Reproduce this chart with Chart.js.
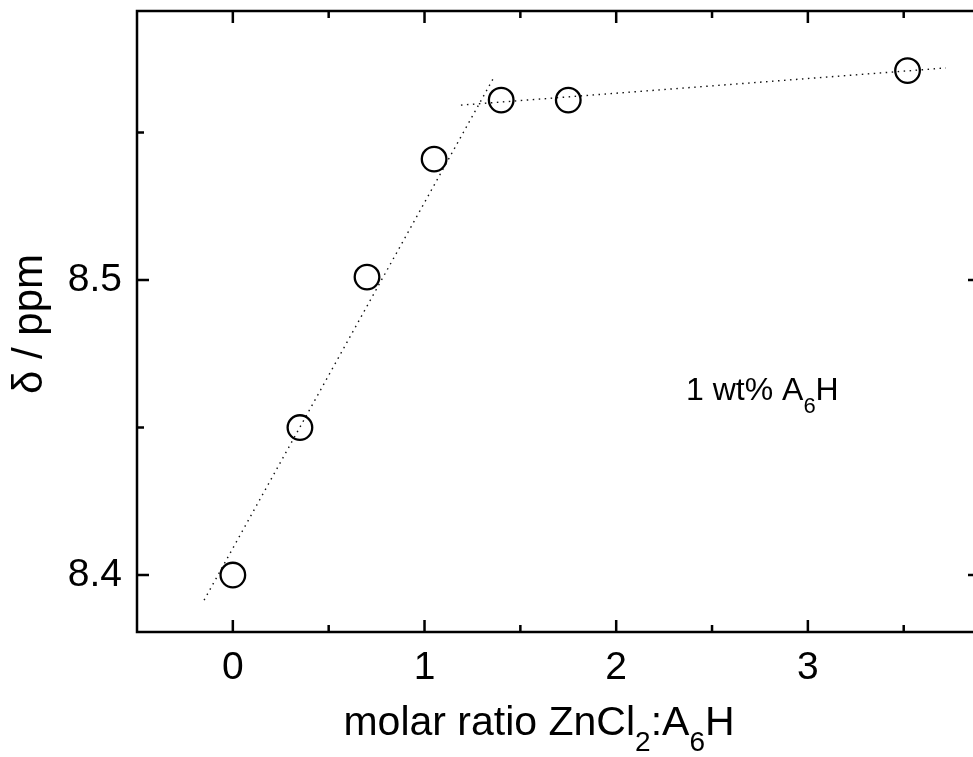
<!DOCTYPE html>
<html>
<head>
<meta charset="utf-8">
<script src="https://cdn.jsdelivr.net/npm/chart.js@4.4.1/dist/chart.umd.min.js"></script>
<style>
  html, body { margin:0; padding:0; background:#fff; overflow:hidden; }
  #wrap { width:973px; height:757px; overflow:hidden; position:relative; }
  #c { display:block; width:990px; height:757px; }
</style>
</head>
<body>
<div id="wrap"><canvas id="c" width="990" height="757"></canvas></div>
<script>
// ---- data ----
const ratioX = [0, 0.35, 0.70, 1.05, 1.40, 1.75, 3.52];
const shiftY = [8.400, 8.450, 8.501, 8.541, 8.561, 8.561, 8.571];
const fitSteepX = [-0.15, 1.36];
const fitSteepY = [8.3915, 8.5685];
const fitFlatX = [1.19, 3.72];
const fitFlatY = [8.5593, 8.5719];
const xTicks = [0, 1, 2, 3];
const xMinorTicks = [0.5, 1.5, 2.5, 3.5];
const yTicks = [8.4, 8.5];
const yMinorTicks = [8.45, 8.55];
const xTitleParts = [["molar ratio ZnCl", false], ["2", true], [":A", false], ["6", true], ["H", false]];
const yTitle = "δ / ppm";
const noteParts = [["1 wt% A", false], ["6", true], ["H", false]];

const FONT = '"Liberation Sans", Arial, sans-serif';

function drawParts(ctx, parts, x, y, size, subSize, subOff) {
  let cx = x;
  for (const [t, sub] of parts) {
    ctx.font = (sub ? subSize : size) + 'px ' + FONT;
    ctx.fillText(t, cx, sub ? y + subOff : y);
    cx += ctx.measureText(t).width;
  }
}
function partsWidth(ctx, parts, size, subSize) {
  let w = 0;
  for (const [t, sub] of parts) {
    ctx.font = (sub ? subSize : size) + 'px ' + FONT;
    w += ctx.measureText(t).width;
  }
  return w;
}

const framePlugin = {
  id: 'frame',
  afterDraw(chart) {
    const ctx = chart.ctx;
    const a = chart.chartArea;
    const xs = chart.scales.x, ys = chart.scales.y;
    ctx.save();
    ctx.strokeStyle = '#000';
    ctx.lineWidth = 2.5;
    ctx.strokeRect(a.left, a.top, a.right - a.left, a.bottom - a.top);
    ctx.beginPath();
    const MAJ = 12, MIN = 7;
    for (const v of xTicks.concat(xMinorTicks)) {
      const L = xTicks.includes(v) ? MAJ : MIN;
      const px = xs.getPixelForValue(v);
      ctx.moveTo(px, a.bottom); ctx.lineTo(px, a.bottom - L);
      ctx.moveTo(px, a.top); ctx.lineTo(px, a.top + L);
    }
    for (const v of yTicks.concat(yMinorTicks)) {
      const L = yTicks.includes(v) ? MAJ : MIN;
      const py = ys.getPixelForValue(v);
      ctx.moveTo(a.left, py); ctx.lineTo(a.left + L, py);
      ctx.moveTo(a.right, py); ctx.lineTo(a.right - L, py);
    }
    ctx.stroke();

    ctx.fillStyle = '#000';
    ctx.textBaseline = 'alphabetic';
    ctx.textAlign = 'left';
    const w = partsWidth(ctx, xTitleParts, 41, 28);
    drawParts(ctx, xTitleParts, 539 - w / 2, 735, 41, 28, 16);
    drawParts(ctx, noteParts, 686, 400, 32, 22, 13);
    ctx.save();
    ctx.translate(42, 324);
    ctx.rotate(-Math.PI / 2);
    ctx.font = '42px ' + FONT;
    ctx.textAlign = 'center';
    ctx.fillText(yTitle, 0, 0);
    ctx.restore();
    ctx.restore();
  }
};

new Chart(document.getElementById('c'), {
  type: 'scatter',
  data: {
    datasets: [
      {
        data: ratioX.map((x, i) => ({ x, y: shiftY[i] })),
        pointStyle: 'circle',
        pointRadius: 12.3,
        pointHoverRadius: 12.3,
        pointBorderWidth: 2.3,
        pointBorderColor: '#000',
        pointBackgroundColor: 'rgba(0,0,0,0)',
        showLine: false,
        order: 1
      },
      {
        data: fitSteepX.map((x, i) => ({ x, y: fitSteepY[i] })),
        showLine: true,
        borderColor: '#111',
        borderWidth: 1.4,
        borderDash: [1.5, 4.5],
        pointRadius: 0,
        order: 2
      },
      {
        data: fitFlatX.map((x, i) => ({ x, y: fitFlatY[i] })),
        showLine: true,
        borderColor: '#111',
        borderWidth: 1.4,
        borderDash: [1.5, 4.5],
        pointRadius: 0,
        order: 2
      }
    ]
  },
  options: {
    responsive: false,
    animation: false,
    events: [],
    layout: { autoPadding: false, padding: { left: 0, right: 10, top: 11, bottom: 0 } },
    plugins: { legend: { display: false }, tooltip: { enabled: false } },
    scales: {
      x: {
        type: 'linear',
        min: -0.5,
        max: 3.898,
        grid: { display: false, drawTicks: false },
        border: { display: false },
        afterBuildTicks: s => { s.ticks = xTicks.map(v => ({ value: v })); },
        afterFit: s => { s.height = 125; s.paddingLeft = 0; s.paddingRight = 0; },
        ticks: { color: '#000', font: { size: 39, family: FONT }, padding: 13, maxRotation: 0 }
      },
      y: {
        type: 'linear',
        min: 8.3807,
        max: 8.5912,
        grid: { display: false, drawTicks: false },
        border: { display: false },
        afterBuildTicks: s => { s.ticks = yTicks.map(v => ({ value: v })); },
        afterFit: s => { s.width = 137; s.paddingTop = 0; s.paddingBottom = 0; },
        ticks: { color: '#000', font: { size: 39, family: FONT }, padding: 15,
                 callback: v => v.toFixed(1) }
      }
    }
  },
  plugins: [framePlugin]
});
</script>
</body>
</html>
